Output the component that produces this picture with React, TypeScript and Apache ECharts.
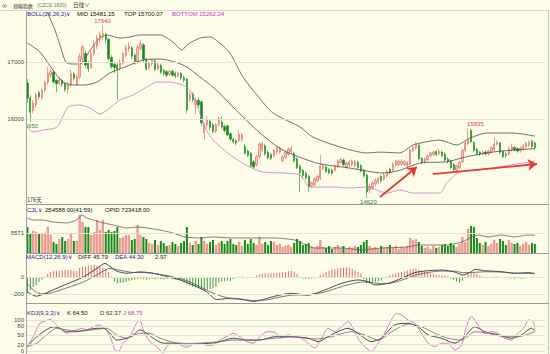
import React, { useEffect, useRef } from "react";
import * as echarts from "echarts";

// ---------- data ----------
// [open, close, low, high]
const candles: number[][] = [
  [16630,16370,16280,16700],[16370,16120,15950,16420],[16150,16280,16100,16330],[16250,16420,16200,16460],[16460,16390,16340,16500],
  [16380,16500,16330,16540],[16510,16640,16470,16680],[16650,16800,16600,16910],[16770,16830,16720,16870],[16820,16650,16620,16850],
  [16680,16620,16470,16700],[16620,16690,16580,16730],[16680,16610,16570,16710],[16620,16520,16480,16640],[16530,16600,16450,16650],
  [16600,16800,16560,16870],[16790,16720,16680,16830],[16600,16740,16590,16780],[16740,17100,16700,17150],[17050,17260,17000,17300],
  [17150,16950,16900,17200],[16980,16880,16820,17020],[16900,17150,16880,17200],[17150,17300,17100,17380],[17280,17420,17230,17470],
  [17400,17480,17350,17530],[17440,17500,17380,17640],[17480,17400,17330,17520],[17400,17060,17020,17420],[17080,16920,16880,17120],
  [16960,16900,16800,17000],[16950,16880,16330,16980],[16900,17000,16850,17050],[16980,17150,16950,17180],[17120,17250,17080,17300],
  [17230,17280,17180,17340],[17250,17100,17050,17280],[17120,16980,16950,17150],[17000,17260,16970,17300],[17240,17320,17200,17380],
  [17300,17050,17000,17330],[17050,16880,16850,17080],[16900,16980,16860,17020],[16970,17030,16930,17060],[17020,16870,16840,17050],
  [16880,16950,16850,16980],[16940,16820,16790,16970],[16850,16800,16760,16880],[16830,16770,16740,16860],[16780,16840,16750,16870],
  [16840,16770,16740,16870],[16800,16760,16720,16830],[16760,16810,16730,16840],[16800,16720,16690,16830],[16720,16680,16640,16760],
  [16700,16160,16100,16720],[16350,16420,16300,16460],[16440,16340,16300,16470],[16250,16330,16080,16370],[16330,16250,16200,16380],
  [16300,15930,15880,16330],[15760,15900,15630,15930],[15900,16000,15850,16050],[15960,15850,15800,15990],[15900,15780,15750,15930],
  [15790,15900,15750,15930],[15900,16010,15870,16040],[15950,15860,15830,16050],[15870,15800,15760,15900],[15880,15720,15700,15900],
  [15740,15650,15610,15770],[15640,15600,15570,15670],[15620,15580,15540,15650],[15620,15730,15590,15800],[15640,15720,15600,15760],
  [15520,15400,15370,15560],[15440,15360,15330,15470],[15400,15180,15150,15420],[15250,15160,15120,15280],[15200,15340,15170,15370],
  [15340,15560,15300,15600],[15450,15570,15420,15610],[15530,15390,15360,15560],[15420,15320,15300,15450],[15380,15310,15280,15400],
  [15360,15450,15330,15480],[15420,15500,15380,15530],[15420,15490,15390,15520],[15270,15330,15240,15360],[15330,15420,15300,15440],
  [15380,15470,15350,15500],[15430,15480,15400,15530],[15400,15270,15240,15420],[15300,15150,15120,15330],[15170,15060,14720,15200],
  [15100,15010,14970,15130],[15050,14970,14940,15080],[15000,14810,14720,15020],[14820,14880,14790,14910],[14850,14950,14820,14980],
  [14920,14990,14890,15020],[14960,15180,14930,15370],[15130,15180,15100,15220],[15160,15080,15050,15190],[15120,15060,15030,15140],
  [15100,15050,15020,15130],[15100,15180,15080,15210],[15170,15260,15140,15290],[15240,15290,15210,15320],[15280,15200,15170,15310],
  [15160,15230,15130,15260],[15190,15240,15160,15270],[15200,15260,15170,15290],[15180,15250,15150,15280],[15240,15150,15120,15270],
  [15180,15090,15060,15210],[15100,15000,14970,15130],[15020,14720,14620,15040],[14760,14820,14700,14860],[14800,14880,14760,14910],
  [14860,14920,14820,14960],[14900,14960,14860,14990],[14990,14920,14880,15020],[14950,15020,14920,15060],[15000,15080,14970,15110],
  [15120,15060,15030,15150],[15100,15210,15070,15240],[15190,15260,15160,15290],[15200,15260,15170,15290],[15210,15260,15180,15300],
  [15200,15250,15170,15280],[15180,15230,15140,15260],[15210,15460,15190,15480],[15450,15500,15420,15540],[15490,15580,15460,15600],
  [15540,15300,15270,15570],[15310,15240,15210,15330],[15250,15300,15220,15330],[15290,15350,15260,15380],[15360,15400,15330,15430],
  [15380,15420,15350,15450],[15430,15380,15350,15460],[15390,15430,15360,15480],[15420,15360,15330,15450],[15380,15280,15250,15420],
  [15300,15250,15220,15330],[15270,15150,15120,15290],[15200,15110,15080,15230],[15100,15180,15050,15200],[15150,15240,15120,15260],
  [15250,15450,15230,15480],[15450,15580,15420,15620],[15570,15650,15540,15835],[15800,15600,15570,15830],[15590,15450,15420,15610],
  [15470,15390,15360,15490],[15420,15390,15350,15440],[15390,15420,15360,15450],[15420,15390,15360,15450],[15390,15440,15360,15460],
  [15420,15500,15400,15520],[15460,15560,15440,15680],[15560,15590,15530,15630],[15580,15420,15380,15600],[15430,15340,15310,15450],
  [15380,15360,15320,15420],[15380,15480,15360,15510],[15460,15510,15430,15570],[15500,15460,15430,15520],[15480,15440,15410,15510],
  [15440,15490,15410,15520],[15470,15530,15450,15560],[15510,15570,15480,15600],[15540,15590,15510,15630],[15610,15520,15490,15640],
  [15580,15500,15470,15610],
];

const volumes: number[] = [
  7240,5570,6130,5850,5490,5290,5570,7240,5010,3060,
  2510,3900,4460,3340,3900,5570,3340,3340,10590,8640,
  7240,7240,5010,5850,9190,6410,9190,5850,6410,5850,
  6130,7240,4180,4460,5010,5010,3620,3900,7800,5010,
  4460,3900,2790,2510,3620,2230,3340,2790,1950,2230,
  3060,2510,1950,2790,3340,7240,2790,2230,3340,2510,
  4460,3340,2510,3060,3620,2230,2790,3340,2510,3340,
  3900,2510,2230,3060,1950,3620,2510,3900,2790,2230,
  4460,2510,3060,2230,3340,3060,2230,2510,1670,1950,
  2230,1670,2790,3900,3340,2230,2510,2790,1670,1390,
  1950,3620,1670,1390,1950,1110,1670,2230,1390,1950,
  1110,1670,1390,1950,1670,2230,3060,3620,1950,1390,
  1670,1110,1950,1390,1670,2230,1390,1950,1110,1670,
  1390,1950,4180,3620,3900,3060,1950,1390,1670,1110,
  1950,1390,1670,2230,2510,1950,2790,2230,1670,2510,
  4460,3060,6690,7520,7240,4180,2790,2230,3060,1950,
  2510,3620,2790,3900,3340,2230,3620,2790,2510,2790,
  1950,2510,3060,2230,2790,2510,
];

// [day index, value]
const opid: number[][] = [
  [0,824890],[1.9,813180],[5.3,813180],[8.8,801470],[13.6,795620],[17,813180],[18.8,842450],[20.5,824890],
  [25,801470],[29.5,783910],[34.3,766350],[37.8,772200],[41.2,766350],[45.7,754640],[50.2,737080],[54.3,713660],
  [59.5,707810],[64,713660],[70.9,707810],[77.8,707810],[85.3,707810],[92.2,696100],[99.1,649270],[108.4,649270],
  [115.3,637560],[122.2,649270],[131.2,655120],[134.7,666830],[139.5,666830],[145,666830],[149.8,684390],
  [153.3,713660],[155.4,725370],[158.8,713660],[163.6,725370],[168,713660],[172.6,725370],[175,723418],
];

const bollUpper: number[][] = [
  [0,18800],[3.6,18320],[7,17860],[9.5,17560],[11.2,17300],[13.6,16980],[16.4,16965],[18.8,16980],[21.6,17210],
  [25,17420],[27.4,17475],[31.9,17420],[35.3,17440],[38.8,17475],[45.7,17475],[50.2,17350],[53.3,17210],[55,17300],
  [59.5,17420],[62.9,17440],[66.4,17330],[69.8,17160],[74.3,16740],[79.5,16400],[84.7,16105],[94,15860],[98.4,15685],
  [107.8,15510],[117,15405],[121.6,15420],[128.4,15405],[133,15545],[142.2,15630],[148,15545],[152.6,15665],
  [158.4,15755],[167.4,15755],[175,15700.07],
];
const bollMid: number[][] = [
  [0,17333],[4.3,17175],[8.8,16860],[12.2,16650],[15.7,16597],[19.8,16597],[24,16649],[28.4,16807],[33.6,16912],
  [39.8,17035],[45.7,17053],[50.9,17000],[55,16912],[59.5,16737],[64.7,16530],[70.9,16211],[80.2,15755],[88.1,15456],
  [99.8,15228],[111.2,15140],[122.6,15053],[128.4,15100],[135.3,15228],[144.6,15250],[151.5,15340],[161.9,15430],
  [175,15481.15],
];
const bollLower: number[][] = [
  [0,15860],[1.9,15772],[5.3,15807],[10.2,15860],[14,16211],[18.1,16246],[21.6,16193],[25,16088],[28.4,16193],
  [31.9,16333],[36.4,16421],[41.2,16562],[44.7,16649],[49.1,16649],[53.6,16597],[55.5,16530],[57.8,16333],[61.2,15860],
  [64,15632],[70.9,15334],[76.7,15158],[81.2,15070],[88.1,15053],[94,15018],[97.4,14807],[105.3,14807],[111.2,14790],
  [117,14807],[124,14702],[128.4,14755],[133,14702],[142.2,14702],[144.6,14878],[149.1,15070],[156,15105],
  [166.4,15193],[175,15262.24],
];

const macdHist: number[] = [
  -186,-150,-115,-92,-55,-26,8,40,62,70,
  76,80,84,86,85,82,76,72,110,125,
  126,140,146,144,138,125,110,98,66,10,
  -48,-70,-66,-60,-52,-40,-34,-26,-18,-14,
  -20,-28,-24,-18,-22,-16,-20,-24,-18,-14,
  -20,-26,-30,-34,-60,-80,-95,-108,-118,-128,
  -140,-148,-146,-138,-128,-110,-62,-50,-44,-40,
  -42,-24,-10,8,14,-6,-12,-8,4,20,
  36,42,46,45,47,50,55,57,59,66,
  72,78,66,38,6,-16,-20,-18,-14,-12,
  -6,30,46,64,78,90,96,104,108,114,
  118,110,100,80,64,46,-20,-70,-68,-62,
  -55,-46,-36,-10,14,26,36,46,54,62,
  68,80,94,100,106,96,78,66,56,46,
  40,34,28,24,18,12,-18,-30,-50,-62,
  -40,8,38,50,55,40,20,8,4,-4,
  6,8,10,-4,-8,-10,-12,-14,-16,-12,
  -14,-18,-12,-8,-4,2.97,
];
const diffLine: number[][] = [
  [0,-170],[3,-222],[5,-205],[8,-160],[13.5,-80],[19.3,5],[24,106],[26.7,164],[28.5,128],[30.8,72],[34.2,48],
  [38.8,64],[43.4,48],[48,10],[52.6,-30],[57.2,-92],[61.8,-170],[65.2,-262],[68.7,-250],[73.3,-256],[77.9,-284],
  [82.5,-250],[85.3,-222],[91,-188],[96.8,-210],[102.5,-150],[108.3,-71],[114,-31],[117.5,-51],[119.8,-90],
  [124.4,-71],[129,-12],[133.6,55],[138.2,78],[142.8,86],[147.4,62],[150.2,27],[153.1,67],[154.3,94],[157.7,78],
  [163.5,66],[168,47],[172.7,55],[175,45.79],
];
const deaLine: number[][] = [
  [0,-80],[3,-175],[5,-192],[8,-185],[13.5,-125],[19.3,-55],[24,30],[28.5,106],[32,82],[36.5,57],[41,55],
  [45.7,35],[50.3,5],[54.9,-39],[59.5,-110],[64.1,-188],[68.7,-239],[73.3,-255],[77.9,-272],[82.5,-266],
  [85.3,-245],[91,-210],[96.8,-205],[102.5,-172],[108.3,-110],[114,-60],[117.5,-55],[119.8,-68],[124.4,-72],
  [129,-35],[133.6,22],[138.2,57],[142.8,74],[147.4,72],[150.2,55],[154.3,58],[157.7,66],[163.5,62],[168,50],
  [172.7,46],[175,44.3],
];

const kLine: number[][] = [
  [0,14],[2,35],[5.5,62],[8.9,78],[11.2,73],[13.5,62],[17,62],[20.4,68],[23.9,73],[26.2,73],[28.5,57],[30.7,35],
  [34.2,41],[36.5,52],[38.8,68],[41.1,57],[43.4,41],[46.8,25],[50.3,25],[55,20],[59.5,23],[65.2,27],[71,41],
  [75.6,35],[80.2,35],[85.3,46],[89.6,46],[96.8,41],[100.2,30],[104.8,52],[110.6,73],[114,57],[118.6,30],[122,41],
  [126.7,84],[131.3,89],[134.7,78],[138.2,52],[142.8,41],[147.4,25],[150.8,46],[154.3,78],[157.7,62],[162.3,52],
  [166.9,41],[170.4,52],[173.8,73],[175,64.5],
];
const dLine: number[][] = [
  [0,14],[3.2,25],[6.6,52],[10,73],[13.5,68],[18.1,64],[23.9,70],[27.3,73],[30.7,52],[34.2,41],[38.8,57],
  [42.2,57],[45.7,41],[50.3,28],[55,24],[59.5,25],[66.4,30],[71,35],[77.9,35],[85.3,41],[92.2,46],[99.1,38],
  [104.8,46],[111.7,62],[116.3,52],[120.9,35],[126.7,68],[131.3,87],[135.9,78],[140.5,57],[145.1,41],[149.7,35],
  [154.3,62],[158.9,57],[164.6,46],[169.2,46],[175,62.37],
];
const jLine: number[][] = [
  [0,14],[2,46],[4.3,89],[6.6,98],[7.8,102],[9.5,89],[11.2,73],[12.4,62],[13.5,57],[14.7,62],[17,68],[18.7,73],
  [20.4,68],[22.7,78],[24.4,84],[26.7,73],[28.5,46],[30.2,3],[31.3,-2],[33,25],[35.3,46],[37.6,89],[38.8,100],
  [39.9,68],[42.2,30],[44.5,14],[46.8,-5],[48,14],[50.3,25],[52,22],[55,12],[57,20],[59.5,25],[62,18],[64.1,19],
  [66.4,36],[68.7,46],[71,57],[73.3,46],[75.6,30],[77.9,25],[80.2,46],[82.5,62],[85.3,60],[87.6,41],[89.9,52],
  [92.2,46],[94.5,41],[96.8,25],[99.1,9],[101.4,41],[103.7,73],[106,62],[108.3,78],[110.6,95],[112.3,73],[114,41],
  [116.3,14],[118.6,-2],[120.9,25],[123.2,57],[125.5,100],[127.3,121],[129,116],[131.3,100],[133.6,89],[135.9,57],
  [138.2,25],[140.5,14],[142.8,25],[145.1,25],[147.4,3],[149.7,19],[151.4,78],[153.1,111],[155.4,84],[157.7,57],
  [160,62],[162.3,57],[164.6,41],[166.9,35],[169.2,57],[171.5,78],[172.7,100],[174.4,95],[175,68.75],
];

const priceTicks = [16000, 17000];
const volumeTicks = [5571];
const macdTicks = [0, -200];
const kdjTicks = [0, 20, 50, 80, 100];

// annotated extremes: [day index, price, text, side]
const extremes: [number, number, string, string][] = [
  [25.9, 17640, "17640", "top"],
  [154.5, 15835, "15835", "top"],
  [117.6, 14620, "14620", "bottom"],
  [0.8, 15950, "15950", "bottom"],
];
// hand-drawn arrows: [from day, from price, to day, to price]
const arrows: number[][] = [
  [121.6, 14632, 134.3, 15158],
  [139.8, 15035, 175.7, 15211],
];

const SLOTS = 179;
const categories = Array.from({ length: SLOTS }, (_, i) => String(i + 1));

// ---------- styles ----------
const BG = "#fcfce8";
const UP_FILL = "#f7c4c0";
const UP_LINE = "#df5f58";
const DOWN = "#178a1a";
const FONT = '"Liberation Sans", Arial, sans-serif';
const CJK = '"Noto Sans CJK SC", "Liberation Sans", sans-serif';
const NAVY = "#1c2580";
const GRIDLINE = "#e3e3d3";

function txt(x: number, y: number, text: string, fill: string, size = 6, family = FONT) {
  return {
    type: "text",
    x,
    y,
    silent: true,
    z: 50,
    style: { text, fill, font: `${size}px ${family}`, verticalAlign: "middle", textVerticalAlign: "middle" },
  };
}
function hline(y: number, x1: number, x2: number, stroke: string) {
  return { type: "line", silent: true, z: 40, shape: { x1, y1: y, x2, y2: y }, style: { stroke, lineWidth: 1 } };
}

function gridMarks(values: number[]) {
  return {
    silent: true,
    symbol: ["none", "none"],
    label: { show: false },
    lineStyle: { color: GRIDLINE, width: 1, type: "solid" },
    emphasis: { disabled: true },
    data: values.map((v) => ({ yAxis: v })),
  };
}

function buildOption() {
  const grids = [
    { left: 26, right: 5, top: 13, height: 192 },
    { left: 26, right: 5, top: 212, height: 41 },
    { left: 26, right: 5, top: 261, height: 42 },
    { left: 26, right: 5, top: 311, height: 43 },
  ];
  const catAxes = grids.map((_, g) => ({
    type: "category",
    gridIndex: g,
    data: categories,
    boundaryGap: true,
    show: false,
  }));
  const valAxes = grids.map((_, g) => ({
    type: "value",
    gridIndex: g,
    min: -0.5,
    max: SLOTS - 0.5,
    show: false,
  }));
  const yAx = (g: number, min: number, max: number, ticks: number[] | null) => ({
    type: "value",
    gridIndex: g,
    min,
    max,
    show: ticks !== null,
    axisLine: { show: false },
    axisTick: { show: false },
    splitLine: { show: false },
    axisLabel: ticks
      ? {
          customValues: ticks,
          fontSize: 6,
          color: "#4a4a4a",
          margin: 2,
          fontFamily: FONT,
          formatter: (v: number) => String(v),
        }
      : { show: false },
  });

  const lineBase = { type: "line", showSymbol: false, symbol: "none", silent: true, smooth: 0.25 };

  return {
    animation: false,
    backgroundColor: BG,
    textStyle: { fontFamily: FONT },
    grid: grids,
    xAxis: [...catAxes, ...valAxes],
    yAxis: [
      yAx(0, 14492, 17860, priceTicks),
      yAx(1, 0, 11421, volumeTicks),
      yAx(1, 620000, 860000, null),
      yAx(2, -302, 192, macdTicks),
      yAx(3, -10, 129, kdjTicks),
    ],
    series: [
      {
        ...lineBase,
        name: "TOP",
        xAxisIndex: 4,
        yAxisIndex: 0,
        z: 1,
        data: bollUpper,
        lineStyle: { color: "#505050", width: 0.8 },
        markLine: gridMarks(priceTicks),
      },
      {
        type: "candlestick",
        xAxisIndex: 0,
        yAxisIndex: 0,
        z: 3,
        silent: true,
        barWidth: 1.8,
        data: candles,
        itemStyle: {
          color: UP_FILL,
          color0: DOWN,
          borderColor: UP_LINE,
          borderColor0: DOWN,
          borderWidth: 0.6,
        },
      },
      {
        ...lineBase,
        name: "MID",
        xAxisIndex: 4,
        yAxisIndex: 0,
        z: 4,
        data: bollMid,
        lineStyle: { color: "#4a4a4a", width: 0.8 },
        markPoint: {
          silent: true,
          symbol: "circle",
          symbolSize: 1,
          itemStyle: { color: "rgba(0,0,0,0)" },
          data: extremes.map(([i, p, t, pos]) => ({
            coord: [i, p],
            label: {
              show: true,
              formatter: t,
              position: pos,
              distance: 1,
              fontSize: 6,
              fontFamily: FONT,
              color: pos === "top" ? "#cf4b42" : "#3c7e3c",
            },
          })),
        },
      },
      {
        ...lineBase,
        name: "BOTTOM",
        xAxisIndex: 4,
        yAxisIndex: 0,
        z: 4,
        data: bollLower,
        lineStyle: { color: "#c77ccf", width: 0.8 },
        markLine: {
          silent: true,
          symbol: ["none", "arrow"],
          symbolSize: 9,
          label: { show: false },
          emphasis: { disabled: true },
          lineStyle: { color: "#e63a33", width: 1.8, type: "solid" },
          data: arrows.map(([a, b, c, d]) => [{ coord: [a, b] }, { coord: [c, d] }]),
        },
      },
      {
        type: "bar",
        xAxisIndex: 1,
        yAxisIndex: 1,
        silent: true,
        barWidth: 2,
        data: volumes.map((v, i) => ({
          value: v,
          itemStyle:
            candles[i][1] >= candles[i][0]
              ? { color: UP_FILL, borderColor: UP_LINE, borderWidth: 0.6 }
              : { color: DOWN },
        })),
        markLine: gridMarks(volumeTicks),
      },
      {
        ...lineBase,
        smooth: 0.15,
        xAxisIndex: 5,
        yAxisIndex: 2,
        data: opid,
        lineStyle: { color: "#606060", width: 0.8 },
      },
      {
        type: "bar",
        xAxisIndex: 2,
        yAxisIndex: 3,
        silent: true,
        barWidth: 1,
        data: macdHist.map((v) => ({ value: v, itemStyle: { color: v >= 0 ? "#e36f6a" : "#3f9a3f" } })),
        markLine: gridMarks(macdTicks),
      },
      {
        ...lineBase,
        xAxisIndex: 6,
        yAxisIndex: 3,
        data: diffLine,
        lineStyle: { color: "#202020", width: 0.8 },
      },
      {
        ...lineBase,
        xAxisIndex: 6,
        yAxisIndex: 3,
        data: deaLine,
        lineStyle: { color: "#4c5670", width: 0.8 },
      },
      {
        ...lineBase,
        xAxisIndex: 7,
        yAxisIndex: 4,
        data: kLine,
        lineStyle: { color: "#202020", width: 0.8 },
        markLine: gridMarks(kdjTicks),
      },
      {
        ...lineBase,
        xAxisIndex: 7,
        yAxisIndex: 4,
        data: dLine,
        lineStyle: { color: "#6a6a6a", width: 0.8 },
      },
      {
        ...lineBase,
        xAxisIndex: 7,
        yAxisIndex: 4,
        data: jLine,
        lineStyle: { color: "#cc55cc", width: 0.8 },
      },
    ],
    graphic: [
      // frame & separators
      { type: "line", silent: true, z: 40, shape: { x1: 26.5, y1: 11, x2: 26.5, y2: 354 }, style: { stroke: "#a3a3a3", lineWidth: 1 } },
      { type: "line", silent: true, z: 40, shape: { x1: 548.5, y1: 11, x2: 548.5, y2: 354 }, style: { stroke: "#c8c8c0", lineWidth: 1 } },
      hline(10.5, 0, 550, "#d8d8cc"),
      hline(204.5, 26, 549, "#9a9a9a"),
      hline(253.5, 26, 549, "#9a9a9a"),
      hline(303.5, 26, 549, "#9a9a9a"),
      // hide the clipped part of the low label behind the axis strip
      { type: "rect", silent: true, z: 45, shape: { x: 0, y: 122, width: 26, height: 9 }, style: { fill: BG } },
      // header
      txt(2, 5, "∞", "#666666", 7),
      txt(13, 5, "郑棉指数", "#333333", 5, CJK),
      txt(37, 5, "(CZCE 1820)", "#777777", 5),
      txt(73, 5, "日线∨", "#333333", 5.5, CJK),
      // BOLL legend
      txt(27, 14, "BOLL(26,26,2)∨", NAVY),
      txt(77, 14, "MID 15481.15", "#111111"),
      txt(124, 14, "TOP 15700.07", "#111111"),
      txt(172, 14, "BOTTOM 15262.24", "#cc33cc"),
      txt(27, 200, "176天", "#333355", 5.5, CJK),
      // volume legend
      txt(27, 210, "CJL∨", NAVY),
      txt(45, 210, "254588.00(41:59)", "#111111"),
      txt(105, 210, "OPID 723418.00", "#111111"),
      // MACD legend
      txt(26, 257, "MACD(12,26,9)∨", NAVY),
      txt(78, 257, "DIFF 45.79", "#111111"),
      txt(115, 257, "DEA 44.30", NAVY),
      txt(155, 257, "2.97", "#111111"),
      // KDJ legend
      txt(27, 313, "KDJ(9,3,3)∨", NAVY),
      txt(67, 313, "K 64.50", "#111111"),
      txt(100, 313, "D 62.37", "#333333"),
      txt(123, 313, "J 68.75", "#cc33cc"),
    ],
  };
}

export default function App() {
  const ref = useRef<HTMLDivElement>(null);
  useEffect(() => {
    document.body.style.margin = "0";
    const chart = echarts.init(ref.current as HTMLDivElement, undefined, { renderer: "svg" });
    chart.setOption(buildOption() as any);
    return () => chart.dispose();
  }, []);
  return <div ref={ref} style={{ width: 550, height: 354 }} />;
}
